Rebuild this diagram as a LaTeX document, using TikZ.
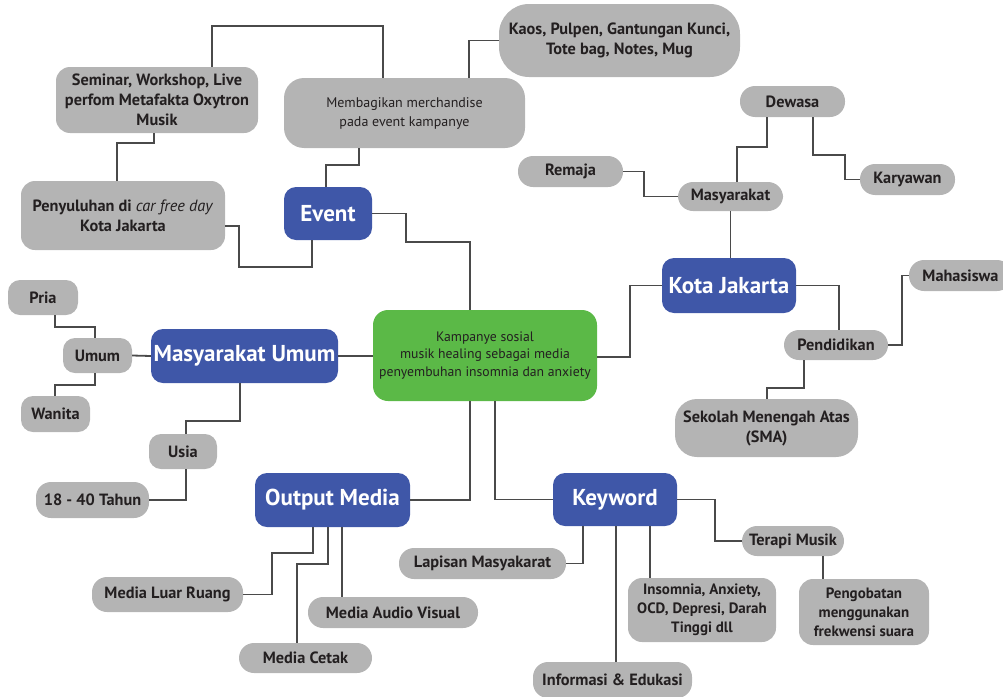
\documentclass[tikz,border=0pt]{standalone}
\usepackage{fontspec}
\setmainfont{PT Sans}
\definecolor{gfill}{HTML}{B4B4B4}
\definecolor{bfill}{HTML}{3F57A8}
\definecolor{grfill}{HTML}{5BB947}
\definecolor{ink}{HTML}{231F20}
\definecolor{lcol}{HTML}{4A4A4A}
\begin{document}
\begin{tikzpicture}[x=1pt,y=-1pt,
  box/.style={inner sep=0pt,align=center,text=ink,font=\fontsize{16.3}{20}\selectfont\bfseries},
  gbox/.style={box,fill=gfill,rounded corners=14pt},
  pill/.style={box,fill=gfill,rounded corners=15pt},
  bbox/.style={box,fill=bfill,text=white,rounded corners=12pt,font=\fontsize{23}{27}\selectfont\bfseries},
  conn/.style={draw=lcol,line width=1.8pt}]
\useasboundingbox (0,0) rectangle (1003,696);
% nodes
\node[box,fill=grfill,rounded corners=15pt,minimum width=224pt,minimum height=91pt,font=\fontsize{13.7}{17.5}\selectfont] (green) at (485,355.5) {Kampanye sosial\\musik healing sebagai media\\penyembuhan insomnia dan anxiety};
\node[bbox,minimum width=88pt,minimum height=53pt] (event) at (328,213.5) {Event};
\node[gbox,rounded corners=20pt,minimum width=241pt,minimum height=70pt,font=\fontsize{14}{19}\selectfont] (memb) at (404.5,113) {Membagikan merchandise\\pada event kampanye};
\node[gbox,rounded corners=30pt,minimum width=241pt,minimum height=73pt] (kaos) at (619.5,40.5) {Kaos, Pulpen, Gantungan Kunci,\\Tote bag, Notes, Mug};
\node[gbox,minimum width=202pt,minimum height=66pt] (sem) at (157,100) {Seminar, Workshop, Live\\perfom Metafakta Oxytron\\Musik};
\node[gbox,minimum width=204pt,minimum height=69pt] (peny) at (123,215.5) {Penyuluhan di \textmd{\textit{car free day}}\\Kota Jakarta};
\node[pill,minimum width=105pt,minimum height=31pt] (dewasa) at (792.5,101.5) {Dewasa};
\node[pill,minimum width=105pt,minimum height=31pt] (remaja) at (570.5,171.5) {Remaja};
\node[pill,minimum width=105pt,minimum height=29pt] (masy) at (730.5,196.5) {Masyarakat};
\node[pill,minimum width=95pt,minimum height=31pt] (karyawan) at (907.5,179.5) {Karyawan};
\node[bbox,minimum width=134pt,minimum height=55pt] (kota) at (729,285.5) {Kota Jakarta};
\node[pill,minimum width=104pt,minimum height=30pt] (pend) at (836,345) {Pendidikan};
\node[pill,minimum width=103pt,minimum height=31pt] (maha) at (960.5,275.5) {Mahasiswa};
\node[gbox,rounded corners=22pt,minimum width=183pt,minimum height=58pt] (sekolah) at (766.5,428) {Sekolah Menengah Atas\\(SMA)};
\node[gbox,rounded corners=12pt,minimum width=70pt,minimum height=35pt] (pria) at (43,297.5) {Pria};
\node[gbox,rounded corners=12pt,minimum width=69pt,minimum height=35pt] (umum) at (97.5,355.5) {Umum};
\node[gbox,rounded corners=12pt,minimum width=69pt,minimum height=36pt] (wanita) at (55.5,414) {Wanita};
\node[bbox,minimum width=187pt,minimum height=54pt] (mu) at (244.5,356) {Masyarakat Umum};
\node[gbox,rounded corners=12pt,minimum width=68pt,minimum height=35pt] (usia) at (183,451.5) {Usia};
\node[gbox,rounded corners=15pt,minimum width=113pt,minimum height=36pt] (tahun) at (92.5,500) {18 - 40 Tahun};
\node[bbox,minimum width=155pt,minimum height=54pt] (om) at (332.5,500) {Output Media};
\node[bbox,minimum width=124pt,minimum height=53pt] (kw) at (615,499.5) {Keyword};
\node[pill,minimum width=102pt,minimum height=30pt] (terapi) at (793,541) {Terapi Musik};
\node[gbox,minimum width=130pt,minimum height=66pt,font=\fontsize{15}{19}\selectfont\bfseries] (pengo) at (864,612) {Pengobatan\\menggunakan\\frekwensi suara};
\node[gbox,minimum width=148pt,minimum height=64pt,font=\fontsize{15}{19}\selectfont\bfseries] (insom) at (702,610) {Insomnia, Anxiety,\\OCD, Depresi, Darah\\Tinggi dll};
\node[pill,minimum width=159pt,minimum height=36pt] (info) at (612.5,680) {Informasi \& Edukasi};
\node[pill,minimum width=167pt,minimum height=31pt] (lapis) at (482.5,563.5) {Lapisan Masyakarat};
\node[pill,minimum width=151pt,minimum height=35pt] (mlr) at (167.5,594.5) {Media Luar Ruang};
\node[pill,minimum width=170pt,minimum height=31pt] (mav) at (393,612.5) {Media Audio Visual};
\node[pill,minimum width=133pt,minimum height=30pt] (mc) at (305.5,658) {Media Cetak};
% connectors
\draw[conn] (sem.north -| 212,0) |- (383,26) -- (memb.north -| 383,0);
\draw[conn] (sem.south -| 154,0) -- (154,143) -| (peny.north -| 117,0);
\draw[conn] (memb.south -| 359,0) -- (359,165) -| (event.north -| 326,0);
\draw[conn] (memb.north -| 469,0) |- (kaos.west);
\draw[conn] (peny.east |- 0,226) -| (239,267) -| (event.south -| 312,0);
\draw[conn] (event.east) -| (406,242) -| (green.north -| 470,0);
\draw[conn] (remaja.east) -| (644,196.5) -- (masy.west);
\draw[conn] (masy.north -| 737,0) |- (767,147) -- (dewasa.south -| 767,0);
\draw[conn] (dewasa.south -| 813,0) |- (845,155) |- (karyawan.west);
\draw[conn] (masy.south) -- (masy.south |- kota.north);
\draw[conn] (green.east |- 0,357) -| (630,285.5) -- (kota.west);
\draw[conn] (kota.east) -| (pend.north -| 839,0);
\draw[conn] (pend.east) -| (902,275.5) -- (maha.west);
\draw[conn] (pend.south -| 804,0) |- (767,388) -- (sekolah.north -| 767,0);
\draw[conn] (pria.south -| 55,0) |- (95,327) -- (umum.north -| 95,0);
\draw[conn] (umum.south -| 95,0) |- (55,385) -- (wanita.north -| 55,0);
\draw[conn] (umum.east) -- (mu.west);
\draw[conn] (mu.east) -- (green.west |- mu.east);
\draw[conn] (mu.south -| 240,0) |- (186,421) -- (usia.north -| 186,0);
\draw[conn] (usia.south -| 186,0) |- (tahun.east);
\draw[conn] (om.east) -| (green.south -| 470,0);
\draw[conn] (green.south -| 495,0) |- (kw.west);
\draw[conn] (kw.east) -| (terapi.west -| 715,0) -- (terapi.west);
\draw[conn] (terapi.south -| 823,0) -- (pengo.north -| 823,0);
\draw[conn] (kw.south -| 650,0) -- (insom.north -| 650,0);
\draw[conn] (kw.south -| 616,0) -- (info.north -| 616,0);
\draw[conn] (kw.south -| 583,0) |- (lapis.east);
\draw[conn] (om.south -| 313,0) -- (313,553) -| (mlr.east -| 272,0) -- (mlr.east);
\draw[conn] (om.south -| 328,0) -- (328,564) -| (mc.north -| 297,0);
\draw[conn] (om.south -| 342,0) -- (mav.north -| 342,0);
\end{tikzpicture}
\end{document}
